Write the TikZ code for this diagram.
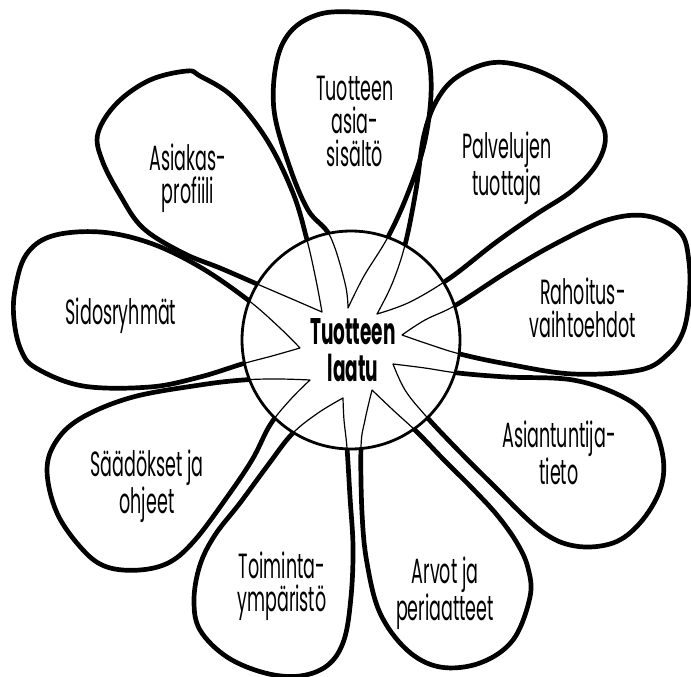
\documentclass[tikz,border=0pt]{standalone}
\usepackage{fontspec}
\setmainfont{Poppins}[FakeStretch=0.5]
\begin{document}
\begin{tikzpicture}[x=1pt,y=-1pt,
  petal/.style={line width=4.7pt,line cap=round,line join=round},
  petalin/.style={line width=1.2pt,line cap=round,line join=round},
  lbl/.style={inner sep=0pt,align=center,font=\fontsize{35}{33}\selectfont},
  hub/.style={inner sep=0pt,align=center,font=\fontsize{37}{37}\selectfont\bfseries}]
\useasboundingbox (0,0) rectangle (691,677);
\coordinate (C) at (351,340);
\newcommand\drawpetals[1]{%
  % Tuotteen asiasisalto (top)
  \draw[#1] plot[smooth,tension=0.6] coordinates {(348,308) (345,283) (330,236) (308,210) (289,165) (274,110) (277,60) (292,30) (320,14) (355,12) (390,16) (415,30) (428,55) (431,95) (424,145) (408,193) (388,237) (364,276) (348,308)};
  % Palvelujen tuottaja
  \draw[#1] plot[smooth,tension=0.6] coordinates {(377,314) (392,284) (405,245) (416,190) (424,135) (437,100) (457,77) (490,63) (523,66) (557,80) (588,105) (605,133) (598,162) (573,190) (535,215) (495,243) (450,278) (410,302) (377,314)};
  % Rahoitusvaihtoehdot
  \draw[#1] plot[smooth,tension=0.6] coordinates {(402,335) (425,320) (456,305) (507,272) (557,243) (607,220) (647,216) (680,232) (689,262) (689,300) (683,332) (668,354) (640,370) (573,374) (507,364) (460,354) (428,344) (402,335)};
  % Asiantuntijatieto
  \draw[#1] plot[smooth,tension=0.6] coordinates {(393,364) (425,368) (458,373) (507,377) (573,380) (623,397) (650,420) (663,457) (660,490) (640,523) (613,543) (575,546) (540,530) (490,482) (455,447) (425,415) (405,390) (393,364)};
  % Arvot ja periaatteet
  \draw[#1] plot[smooth,tension=0.6] coordinates {(372,390) (365,420) (361,447) (362,513) (367,563) (380,613) (407,650) (440,667) (480,663) (513,640) (530,597) (528,568) (517,543) (497,515) (472,488) (444,460) (418,433) (393,410) (372,390)};
  % Toimintaymparisto
  \draw[#1] plot[smooth,tension=0.6] coordinates {(343,398) (318,413) (292,434) (268,465) (240,503) (215,535) (200,565) (194,600) (200,630) (227,657) (265,673) (300,676) (328,665) (344,640) (351,597) (353,547) (350,497) (347,448) (344,420) (343,398)};
  % Saadokset ja ohjeet
  \draw[#1] plot[smooth,tension=0.6] coordinates {(310,380) (278,379) (243,380) (200,385) (133,397) (83,417) (57,440) (47,470) (57,513) (83,550) (107,567) (140,570) (170,562) (195,540) (225,500) (252,460) (270,425) (290,400) (310,380)};
  % Sidosryhmat
  \draw[#1] plot[smooth,tension=0.6] coordinates {(300,348) (280,328) (248,300) (200,267) (150,243) (100,232) (52,236) (26,255) (15,290) (14,320) (21,350) (36,368) (83,386) (150,387) (200,377) (242,364) (272,356) (300,348)};
  % Asiakasprofiili
  \draw[#1] plot[smooth,tension=0.6] coordinates {(322,312) (316,280) (307,240) (293,193) (267,140) (233,97) (200,76) (187,71) (150,80) (117,103) (98,133) (102,160) (120,195) (143,228) (183,253) (220,268) (257,284) (292,299) (322,312)};
}
\drawpetals{petal}
\fill[white] (C) circle[radius=109];
\begin{scope}
  \clip (C) circle[radius=109];
  \drawpetals{petalin}
\end{scope}
\draw[line width=2.8pt] (C) circle[radius=109];
\node[hub] (hub) at (353,350) {Tuotteen\\laatu};
\node[lbl] (p1) at (355,121) {Tuotteen\\asia-\\sisältö};
\node[lbl] (p2) at (507,168) {Palvelujen\\tuottaja};
\node[lbl] (p3) at (583,308) {Rahoitus-\\vaihtoehdot};
\node[lbl] (p4) at (559,453) {Asiantuntija-\\tieto};
\node[lbl] (p5) at (445,593) {Arvot ja\\periaatteet};
\node[lbl] (p6) at (282,586) {Toiminta-\\ympäristö};
\node[lbl] (p7) at (147,486) {Säädökset ja\\ohjeet};
\node[lbl] (p8) at (121,316) {Sidosryhmät};
\node[lbl] (p9) at (188,178) {Asiakas-\\profiili};
\end{tikzpicture}
\end{document}
